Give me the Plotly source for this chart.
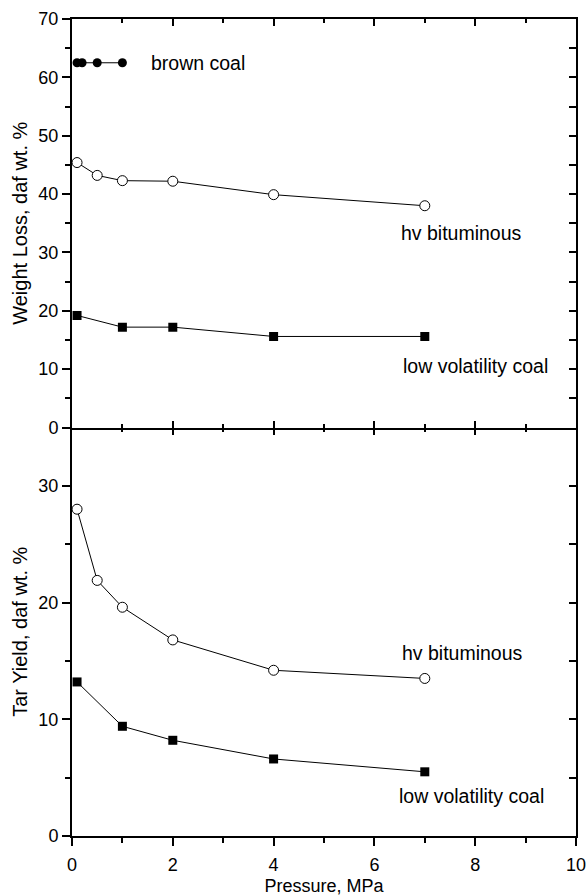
import plotly.graph_objects as go

# Pressure levels (MPa) for each coal
pressure_brown = [0.1, 0.2, 0.5, 1.0]
pressure_bit = [0.1, 0.5, 1.0, 2.0, 4.0, 7.0]
pressure_low = [0.1, 1.0, 2.0, 4.0, 7.0]

# Weight loss, daf wt. %
weight_brown = [62.5, 62.5, 62.5, 62.5]
weight_bit = [45.4, 43.2, 42.3, 42.2, 39.9, 38.0]
weight_low = [19.2, 17.2, 17.2, 15.6, 15.6]

# Tar yield, daf wt. %
tar_bit = [28.0, 21.9, 19.6, 16.8, 14.2, 13.5]
tar_low = [13.2, 9.4, 8.2, 6.6, 5.5]

FONT = "Liberation Sans, Arial, Helvetica, sans-serif"
line_style = dict(color="black", width=1)
open_circle = dict(symbol="circle", size=10, color="white", line=dict(width=1, color="black"))
filled_circle = dict(symbol="circle", size=9, color="black")
filled_square = dict(symbol="square", size=9, color="black")

fig = go.Figure()

# Upper panel: weight loss (right-hand tick axis y3 shares the same scale as y)
fig.add_trace(go.Scatter(x=pressure_brown, y=weight_brown, mode="lines+markers",
                         line=line_style, marker=filled_circle, xaxis="x", yaxis="y"))
fig.add_trace(go.Scatter(x=pressure_bit, y=weight_bit, mode="lines+markers",
                         line=line_style, marker=open_circle, xaxis="x", yaxis="y3"))
fig.add_trace(go.Scatter(x=pressure_low, y=weight_low, mode="lines+markers",
                         line=line_style, marker=filled_square, xaxis="x", yaxis="y3"))

# Lower panel: tar yield (x3 / y4 carry the inner ticks on top and right)
fig.add_trace(go.Scatter(x=pressure_bit, y=tar_bit, mode="lines+markers",
                         line=line_style, marker=open_circle, xaxis="x2", yaxis="y2"))
fig.add_trace(go.Scatter(x=pressure_low, y=tar_low, mode="lines+markers",
                         line=line_style, marker=filled_square, xaxis="x3", yaxis="y4"))

common = dict(showgrid=False, zeroline=False, showline=True, linecolor="black",
              automargin=False,
              tickcolor="black", tickfont=dict(family=FONT, size=18, color="black"))

xr = [0, 10]

fig.update_layout(
    width=586, height=896,
    margin=dict(l=72, r=10, t=19, b=60, autoexpand=False),
    paper_bgcolor="white", plot_bgcolor="white",
    showlegend=False,
    font=dict(family=FONT, size=18, color="black"),
    # top panel x axis: inward ticks on both edges
    xaxis=dict(domain=[0, 1], anchor="y", range=xr, ticks="inside", mirror="ticks",
               ticklen=7, tickwidth=1.5, dtick=2, linewidth=2,
               minor=dict(ticks="inside", ticklen=4, tickwidth=1.5, dtick=1, tickcolor="black"),
               showticklabels=False, **common),
    yaxis=dict(domain=[0.5, 1], anchor="x", range=[0, 70], ticks="outside",
               ticklen=8, tickwidth=1.5, dtick=10, linewidth=2,
               minor=dict(ticks="outside", ticklen=5, tickwidth=1.5, dtick=5, tickcolor="black"),
               title=dict(text="Weight Loss, daf wt. %", font=dict(family=FONT, size=20),
                          standoff=5),
               **common),
    yaxis3=dict(overlaying="y", anchor="x", side="right", range=[0, 70], ticks="inside",
                ticklen=7, tickwidth=1.5, dtick=5, linewidth=1.5, showticklabels=False,
                **common),
    # bottom panel
    xaxis2=dict(domain=[0, 1], anchor="y2", range=xr, ticks="outside", side="bottom",
                ticklen=8, tickwidth=1.5, dtick=2, linewidth=2,
                minor=dict(ticks="outside", ticklen=5, tickwidth=1.5, dtick=1, tickcolor="black"),
                ticklabelstandoff=3, ticklabeloverflow="allow",
                title=dict(text="Pressure, MPa", font=dict(family=FONT, size=18), standoff=13),
                **common),
    xaxis3=dict(overlaying="x2", anchor="y2", side="top", range=xr, ticks="inside",
                ticklen=7, tickwidth=1.5, dtick=2, linewidth=2,
                minor=dict(ticks="inside", ticklen=4, tickwidth=1.5, dtick=1, tickcolor="black"),
                showticklabels=False, **{**common, "showline": False}),
    yaxis2=dict(domain=[0, 0.5], anchor="x2", range=[0, 35], ticks="outside",
                ticklen=8, tickwidth=1.5, dtick=10, linewidth=2,
                minor=dict(ticks="outside", ticklen=5, tickwidth=1.5, dtick=5, tickcolor="black"),
                title=dict(text="Tar Yield, daf wt. %", font=dict(family=FONT, size=20),
                           standoff=5),
                **common),
    yaxis4=dict(overlaying="y2", anchor="x2", side="right", range=[0, 35], ticks="inside",
                ticklen=7, tickwidth=1.5, dtick=5, linewidth=1.5, showticklabels=False,
                **common),
)

labels = [
    ("brown coal", 1.52, 62.5, "x", "y"),
    ("hv bituminous", 6.48, 33.3, "x", "y"),
    ("low volatility coal", 6.53, 10.6, "x", "y"),
    ("hv bituminous", 6.5, 15.7, "x2", "y2"),
    ("low volatility coal", 6.45, 3.4, "x2", "y2"),
]
for text, lx, ly, xr_, yr_ in labels:
    fig.add_annotation(text=text, x=lx, y=ly, xref=xr_, yref=yr_, showarrow=False,
                       xanchor="left", yanchor="middle",
                       font=dict(family=FONT, size=19.5, color="black"))

fig.write_html("out.html")
